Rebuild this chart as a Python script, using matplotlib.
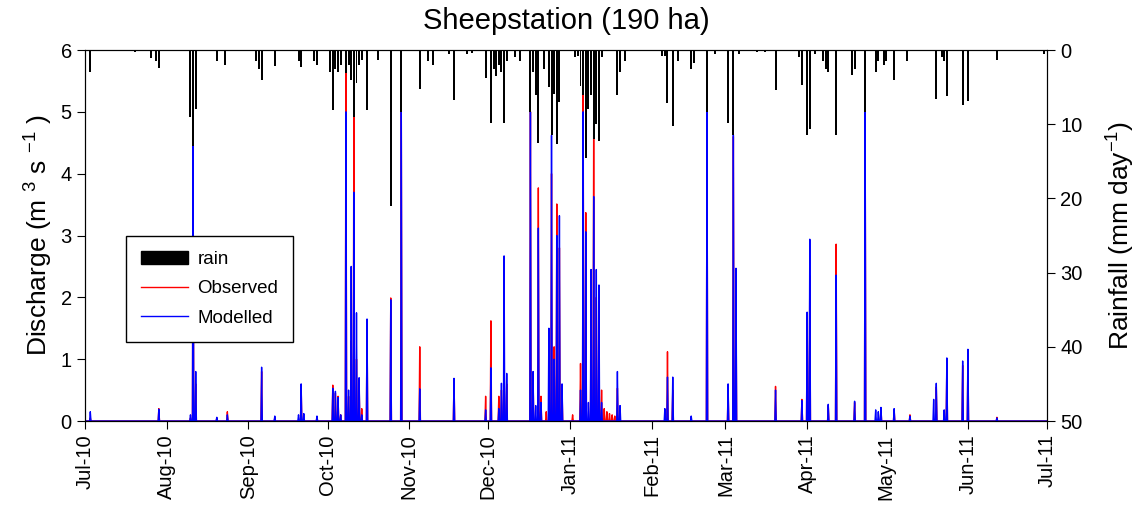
import matplotlib
matplotlib.use('Agg')
import matplotlib.pyplot as plt
import matplotlib.dates as mdates
from matplotlib.patches import Patch
from matplotlib.lines import Line2D
import pandas as pd

plt.rcParams['font.family'] = ['Liberation Sans', 'DejaVu Sans']
plt.rcParams['mathtext.default'] = 'regular'

# days counted from 1 Jul 2010
obs_day = [2, 28, 40, 41, 42, 50, 54, 67, 72, 82, 88, 94, 95, 96, 97, 99, 100, 101, 102, 103, 104, 105,
           107, 116, 120, 127, 140, 152, 154, 157, 158, 159, 160, 169, 170, 172, 173, 175, 177, 178, 179,
           180, 181, 185, 188, 189, 190, 192, 193, 194, 195, 196, 197, 198, 199, 200, 201, 202, 221, 223,
           236, 244, 246, 247, 262, 272, 274, 275, 282, 285, 292, 296, 302, 307, 313, 323, 327, 333, 335, 346]
obs_q = [0.05, 0.2, 0.05, 4.4, 0.6, 0.05, 0.15, 0.8, 0.05, 0.55, 0.06, 0.58, 0.45, 0.4, 0.1, 6.2, 0.4, 1.3, 5.0, 1.0, 0.6, 0.2,
         1.6, 1.99, 5.0, 1.2, 0.68, 0.4, 1.62, 0.4, 0.5, 1.0, 0.6, 5.0, 0.7, 3.77, 0.4, 0.15, 4.0, 1.2, 3.51,
         2.8, 0.5, 0.1, 0.93, 5.42, 3.37, 1.5, 4.82, 2.0, 1.2, 0.5, 0.2, 0.15, 0.12, 0.1, 0.08, 0.53, 1.12, 0.5,
         5.0, 0.5, 4.6, 2.0, 0.56, 0.35, 1.7, 2.35, 0.25, 2.86, 0.3, 5.0, 0.2, 0.18, 0.1, 0.55, 0.9, 0.9, 1.0, 0.06]

mod_day = [2, 28, 40, 41, 42, 50, 54, 67, 72, 81, 82, 83, 88, 94, 95, 96, 97, 99, 100, 101, 102, 103, 104, 105,
           107, 116, 120, 127, 140, 152, 154, 157, 158, 159, 160, 169, 170, 171, 172, 173, 176, 177, 178, 179,
           180, 181, 188, 189, 190, 191, 192, 193, 194, 195, 196, 202, 203, 220, 221, 223, 230, 236, 244, 246,
           247, 262, 272, 274, 275, 282, 285, 292, 296, 300, 301, 302, 307, 313, 322, 323, 326, 327, 333, 335, 346]
mod_q = [0.15, 0.19, 0.1, 4.45, 0.8, 0.06, 0.1, 0.87, 0.08, 0.1, 0.6, 0.12, 0.08, 0.53, 0.48, 0.38, 0.1, 5.0, 0.5, 2.5, 3.7, 1.75, 0.7, 0.1,
         1.65, 1.96, 5.0, 0.52, 0.69, 0.18, 0.86, 0.2, 0.61, 2.67, 0.77, 5.0, 0.8, 0.25, 3.12, 0.3, 1.5, 4.62, 1.0, 3.0,
         3.32, 0.6, 0.5, 5.0, 3.06, 0.3, 2.45, 3.63, 2.45, 2.2, 0.3, 0.8, 0.25, 0.2, 0.71, 0.71, 0.08, 5.0, 0.6, 4.63,
         2.47, 0.5, 0.33, 1.76, 2.94, 0.27, 2.36, 0.32, 5.0, 0.18, 0.15, 0.22, 0.2, 0.08, 0.35, 0.61, 0.18, 1.02, 0.97, 1.16, 0.05]

rain_day = [2, 19, 25, 27, 28, 40, 41, 42, 50, 53, 65, 66, 67, 72, 81, 82, 87, 88, 93, 94, 95, 96, 97,
            99, 100, 101, 102, 103, 104, 105, 107, 111, 116, 120, 127, 130, 132, 138, 140, 145, 147, 152,
            154, 155, 156, 157, 158, 159, 160, 163, 165, 169, 170, 171, 172, 174, 176, 177, 178, 179, 180,
            186, 187, 188, 189, 190, 191, 192, 193, 194, 195, 196, 202, 203, 205, 219, 220, 221, 223, 225,
            230, 231, 236, 239, 244, 246, 248, 255, 258, 262, 271, 272, 274, 275, 277, 280, 281, 282, 285,
            291, 292, 296, 300, 301, 303, 304, 307, 312, 323, 325, 326, 327, 333, 335, 346, 364]
rain_mm = [3.0, 0.3, 1.1, 1.5, 2.4, 9.0, 13.0, 8.0, 1.5, 2.0, 1.5, 2.5, 4.0, 2.2, 1.5, 2.3, 1.5, 2.0, 3.0, 8.1, 2.5, 3.0, 2.0,
           3.1, 2.0, 4.0, 9.0, 4.5, 2.0, 1.4, 8.1, 1.4, 21.0, 8.4, 5.3, 1.5, 2.0, 0.5, 6.7, 0.5, 0.4, 3.8,
           9.9, 2.5, 3.5, 2.0, 3.0, 9.8, 1.5, 1.0, 1.5, 8.4, 3.0, 6.0, 12.5, 2.5, 5.0, 11.5, 5.9, 12.6, 7.0,
           1.0, 0.8, 4.9, 6.0, 14.6, 8.0, 6.0, 12.0, 10.0, 12.2, 1.0, 6.0, 3.0, 1.5, 0.8, 0.8, 7.2, 10.2, 1.5,
           2.5, 1.8, 8.4, 0.5, 9.8, 11.5, 0.5, 0.3, 0.3, 5.4, 1.0, 4.7, 11.5, 10.7, 0.6, 1.5, 2.5, 3.0, 11.5,
           3.4, 2.5, 8.4, 3.0, 1.5, 2.0, 1.5, 4.0, 1.5, 6.6, 1.0, 1.5, 6.2, 7.4, 6.9, 1.4, 0.6]

start = pd.Timestamp('2010-07-01')
end = pd.Timestamp('2011-07-01')

# flow is logged sub-daily, so use a 6 hourly grid (zero between events)
grid = pd.date_range(start, end, freq='6h')
obs = pd.Series(0.0, index=grid)
obs.loc[start + pd.to_timedelta(obs_day, unit='D')] = obs_q
mod = pd.Series(0.0, index=grid)
mod.loc[start + pd.to_timedelta(mod_day, unit='D')] = mod_q
rain_dates = start + pd.to_timedelta(rain_day, unit='D')

fig = plt.figure(figsize=(11.43, 5.13), dpi=100)
ax = fig.add_axes([0.0744, 0.1793, 0.8416, 0.7232])

ax.plot(obs.index, obs.values, color='red', lw=1.0)
ax.plot(mod.index, mod.values, color='blue', lw=1.0)
ax.set_ylim(0, 6)
ax.set_xlim(start, end)
ax.set_ylabel('Discharge (m $^{3}$ s $^{-1}$ )', fontsize=19, labelpad=4)
ax.set_title('Sheepstation (190 ha)', fontsize=21, pad=15)

ax.xaxis.set_major_locator(mdates.MonthLocator())
ax.xaxis.set_major_formatter(mdates.DateFormatter('%b-%y'))
ax.tick_params(axis='x', rotation=90, labelsize=14.5, direction='out', length=6)
ax.tick_params(axis='y', labelsize=14.5, direction='out', length=6)

# rainfall hangs from the top on a reversed axis
ax2 = ax.twinx()
ax2.bar(rain_dates, rain_mm, width=0.75, color='black', linewidth=0)
ax2.set_ylim(50, 0)
ax2.set_yticks([0, 10, 20, 30, 40, 50])
ax2.set_ylabel('Rainfall (mm day$^{-1}$)', fontsize=19, labelpad=16)
ax2.tick_params(axis='y', labelsize=14.5, direction='out', length=6)

handles = [Patch(facecolor='black', edgecolor='black'),
           Line2D([], [], color='red', lw=1.0),
           Line2D([], [], color='blue', lw=1.0)]
leg = ax2.legend(handles, ['rain', 'Observed', 'Modelled'], loc='upper left',
                 bbox_to_anchor=(0.0426, 0.4987), borderaxespad=0, fontsize=13.5,
                 fancybox=False, framealpha=1, edgecolor='black', handlelength=2.5,
                 borderpad=0.8, labelspacing=0.65, handletextpad=0.5)
leg.get_frame().set_linewidth(1.0)

fig.savefig('out.png', dpi=100)
